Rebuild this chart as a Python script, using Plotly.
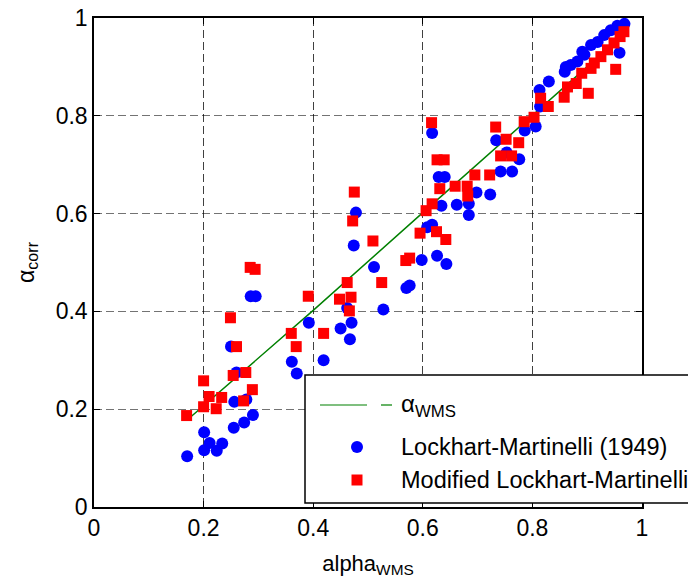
import plotly.graph_objects as go

# alpha_WMS reference line
line_x = [0.17, 0.40, 0.60, 0.80, 0.97]
line_y = [0.178, 0.402, 0.602, 0.800, 0.970]

# Lockhart-Martinelli (1949)
lm_x = [0.170, 0.201, 0.211, 0.201, 0.224, 0.234, 0.255, 0.274, 0.290, 0.256,
        0.278, 0.260, 0.250, 0.286, 0.295, 0.361, 0.370, 0.392, 0.419, 0.450,
        0.467, 0.470, 0.462, 0.528, 0.511, 0.474, 0.478, 0.570, 0.576, 0.598,
        0.626, 0.643, 0.608, 0.617, 0.634, 0.662, 0.684, 0.684, 0.698, 0.723,
        0.629, 0.640, 0.742, 0.763, 0.753, 0.776, 0.734, 0.617, 0.786, 0.806,
        0.814, 0.813, 0.830, 0.859, 0.870, 0.882, 0.861, 0.891, 0.895, 0.907,
        0.919, 0.931, 0.943, 0.955, 0.968, 0.959]
lm_y = [0.104, 0.153, 0.131, 0.116, 0.115, 0.130, 0.162, 0.173, 0.188, 0.215,
        0.220, 0.275, 0.328, 0.431, 0.431, 0.297, 0.273, 0.377, 0.300, 0.365,
        0.343, 0.377, 0.407, 0.404, 0.491, 0.535, 0.602, 0.448, 0.453, 0.505,
        0.514, 0.497, 0.572, 0.577, 0.616, 0.618, 0.620, 0.597, 0.643, 0.639,
        0.675, 0.675, 0.686, 0.686, 0.725, 0.711, 0.750, 0.765, 0.770, 0.778,
        0.819, 0.853, 0.870, 0.890, 0.904, 0.911, 0.900, 0.931, 0.925, 0.945,
        0.951, 0.965, 0.975, 0.984, 0.988, 0.929]

# Modified Lockhart-Martinelli
mlm_x = [0.169, 0.200, 0.200, 0.210, 0.223, 0.233, 0.249, 0.260, 0.254, 0.277,
         0.289, 0.273, 0.285, 0.294, 0.360, 0.369, 0.391, 0.419, 0.448, 0.469,
         0.466, 0.462, 0.525, 0.509, 0.472, 0.475, 0.569, 0.576, 0.595, 0.625,
         0.642, 0.606, 0.617, 0.631, 0.659, 0.681, 0.682, 0.695, 0.722, 0.626,
         0.639, 0.616, 0.742, 0.762, 0.752, 0.775, 0.733, 0.785, 0.803, 0.815,
         0.829, 0.858, 0.864, 0.880, 0.902, 0.890, 0.907, 0.952, 0.913, 0.925,
         0.937, 0.949, 0.960, 0.967]
mlm_y = [0.187, 0.205, 0.258, 0.226, 0.201, 0.224, 0.387, 0.328, 0.269, 0.275,
         0.240, 0.217, 0.490, 0.486, 0.355, 0.328, 0.431, 0.355, 0.425, 0.429,
         0.401, 0.459, 0.459, 0.544, 0.585, 0.644, 0.504, 0.509, 0.560, 0.563,
         0.547, 0.606, 0.620, 0.651, 0.656, 0.656, 0.636, 0.679, 0.679, 0.710,
         0.710, 0.786, 0.718, 0.718, 0.752, 0.745, 0.777, 0.788, 0.797, 0.836,
         0.819, 0.838, 0.859, 0.866, 0.846, 0.887, 0.897, 0.895, 0.908, 0.921,
         0.935, 0.949, 0.962, 0.972]

tick_vals = [0, 0.2, 0.4, 0.6, 0.8, 1]
tick_text = ["0", "0.2", "0.4", "0.6", "0.8", "1"]

legend_names = ["α<sub>WMS</sub>", "Lockhart-Martinelli (1949)", "Modified Lockhart-Martinelli"]

FONT = "Liberation Sans, Arial, sans-serif"
W, H = 688, 583
ML, MR, MT, MB = 94, 46, 18, 76
PW, PH = W - ML - MR, H - MT - MB


def px(xp):
    return (xp - ML) / PW


def py(yp):
    return (H - MB - yp) / PH


fig = go.Figure()
fig.add_trace(go.Scatter(x=line_x, y=line_y, mode="lines",
                         line=dict(color="#008000", width=1.5),
                         name=legend_names[0], showlegend=False))
fig.add_trace(go.Scatter(x=lm_x, y=lm_y, mode="markers",
                         marker=dict(symbol="circle", size=12, color="#0000ff"),
                         name=legend_names[1], showlegend=False))
fig.add_trace(go.Scatter(x=mlm_x, y=mlm_y, mode="markers",
                         marker=dict(symbol="square", size=11, color="#ff0000"),
                         name=legend_names[2], showlegend=False))

axis_common = dict(
    range=[0, 1], tickvals=tick_vals, ticktext=tick_text, automargin=False,
    showline=True, linecolor="black", linewidth=1.5, mirror="ticks",
    ticks="inside", ticklen=6, tickcolor="black", tickwidth=1,
    showgrid=True, griddash="8px,4px", gridwidth=1,
    zeroline=False, tickfont=dict(family=FONT, size=23, color="black"),
)

# MATLAB-style legend box (extends beyond the right edge like the original)
shapes = [
    dict(type="rect", xref="paper", yref="paper",
         x0=px(305), x1=px(720), y0=py(503), y1=py(375),
         line=dict(color="black", width=1.5), fillcolor="white", layer="above"),
    dict(type="line", xref="paper", yref="paper",
         x0=px(320), x1=px(367), y0=py(405), y1=py(405),
         line=dict(color="#008000", width=1.2), layer="above"),
    dict(type="line", xref="paper", yref="paper",
         x0=px(381), x1=px(392), y0=py(405), y1=py(405),
         line=dict(color="#008000", width=1.2), layer="above"),
    dict(type="circle", xref="paper", yref="paper",
         x0=px(351), x1=px(363), y0=py(453), y1=py(441),
         line=dict(color="#0000ff", width=0), fillcolor="#0000ff", layer="above"),
    dict(type="rect", xref="paper", yref="paper",
         x0=px(351.5), x1=px(362.5), y0=py(485.5), y1=py(474.5),
         line=dict(color="#ff0000", width=0), fillcolor="#ff0000", layer="above"),
]

annotations = [
    dict(text=legend_names[0], xref="paper", yref="paper", x=px(399), y=py(406),
         xanchor="left", yanchor="middle", showarrow=False,
         font=dict(family=FONT, size=24, color="black")),
    dict(text=legend_names[1], xref="paper", yref="paper", x=px(399), y=py(447),
         xanchor="left", yanchor="middle", showarrow=False,
         font=dict(family=FONT, size=23.5, color="black")),
    dict(text=legend_names[2], xref="paper", yref="paper", x=px(399), y=py(480),
         xanchor="left", yanchor="middle", showarrow=False,
         font=dict(family=FONT, size=23.5, color="black")),
]

fig.update_layout(
    width=W, height=H,
    margin=dict(l=ML, r=MR, t=MT, b=MB),
    paper_bgcolor="white", plot_bgcolor="white",
    font=dict(family=FONT, size=22, color="black"),
    xaxis=dict(**axis_common, gridcolor="rgba(0,0,0,0.75)",
               title=dict(text="alpha<sub>WMS</sub>",
                          font=dict(family=FONT, size=22))),
    yaxis=dict(**axis_common, gridcolor="rgba(0,0,0,0.55)",
               title=dict(text="α<sub>corr</sub>",
                          font=dict(family=FONT, size=23))),
    shapes=shapes,
    annotations=annotations,
    showlegend=False,
)

fig.write_html(
    "out.html",
    config={"displayModeBar": False},
    post_script="document.body.style.margin='0';document.body.style.overflow='hidden';",
)
